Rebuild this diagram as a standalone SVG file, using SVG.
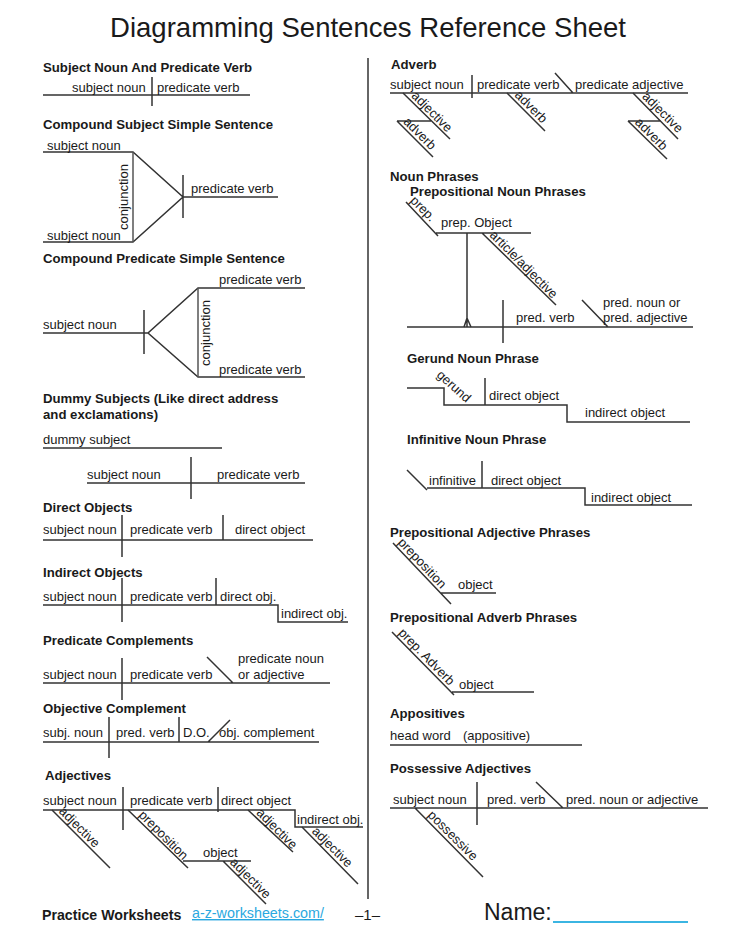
<svg xmlns="http://www.w3.org/2000/svg" width="736" height="952" viewBox="0 0 736 952">
<style>
  text { font-family: "Liberation Sans", Arial, sans-serif; fill: #1a1a1a; }
  .title { font-size: 28px; }
  .h { font-size: 13.2px; font-weight: bold; }
  .t { font-size: 13px; }
  .ln { stroke: #333; stroke-width: 1.5; fill: none; }
  .cj { stroke: #555; stroke-width: 1.5; fill: none; }
  .foot { font-size: 14.2px; font-weight: bold; }
  .link { font-size: 14.3px; fill: #2aa8e0; text-decoration: underline; }
</style>
<rect width="736" height="952" fill="#fff"/>
<text class="title" x="368" y="37" text-anchor="middle" textLength="516" lengthAdjust="spacingAndGlyphs">Diagramming Sentences Reference Sheet</text>

<g id="connectors">
  <line class="ln" x1="368" y1="58" x2="368" y2="899"/>
</g>

<!-- Left column -->
<g id="subject-predicate">
  <text class="h" x="43" y="72">Subject Noun And Predicate Verb</text>
  <path class="ln" d="M43 95H250M152 77V106"/>
  <text class="t" x="72" y="92">subject noun</text>
  <text class="t" x="157" y="92">predicate verb</text>
</g>

<g id="compound-subject">
  <text class="h" x="43" y="129">Compound Subject Simple Sentence</text>
  <path class="ln" d="M43 152H133L183 197L133 242H43M183 175V218M183 197H278"/>
  <path class="cj" d="M133 152V242"/>
  <text class="t" x="47" y="150">subject noun</text>
  <text class="t" x="47" y="240">subject noun</text>
  <text class="t" transform="translate(128,197) rotate(-90)" text-anchor="middle">conjunction</text>
  <text class="t" x="191" y="193">predicate verb</text>
</g>

<g id="compound-predicate">
  <text class="h" x="43" y="263">Compound Predicate Simple Sentence</text>
  <path class="ln" d="M43 333H148M144 310V354M305 288H198L148 333L198 377H305"/>
  <path class="cj" d="M198 288V377"/>
  <text class="t" x="43" y="329">subject noun</text>
  <text class="t" transform="translate(210,333) rotate(-90)" text-anchor="middle">conjunction</text>
  <text class="t" x="219" y="284">predicate verb</text>
  <text class="t" x="219" y="374">predicate verb</text>
</g>

<g id="dummy-subjects">
  <text class="h" x="43" y="403">Dummy Subjects (Like direct address</text>
  <text class="h" x="43" y="419">and exclamations)</text>
  <path class="ln" d="M43 448H222M87 483H305M191 457V499"/>
  <text class="t" x="43" y="444">dummy subject</text>
  <text class="t" x="87" y="479">subject noun</text>
  <text class="t" x="217" y="479">predicate verb</text>
</g>

<g id="direct-objects">
  <text class="h" x="43" y="512">Direct Objects</text>
  <path class="ln" d="M43 540H313M122 515V557M223 515V540"/>
  <text class="t" x="43" y="534">subject noun</text>
  <text class="t" x="130" y="534">predicate verb</text>
  <text class="t" x="235" y="534">direct object</text>
</g>

<g id="indirect-objects">
  <text class="h" x="43" y="577">Indirect Objects</text>
  <path class="ln" d="M43 605H278V622H348M122 578V622M216 578V605"/>
  <text class="t" x="43" y="601">subject noun</text>
  <text class="t" x="130" y="601">predicate verb</text>
  <text class="t" x="220" y="601">direct obj.</text>
  <text class="t" x="281" y="618">indirect obj.</text>
</g>

<g id="predicate-complements">
  <text class="h" x="43" y="645">Predicate Complements</text>
  <path class="ln" d="M43 683H330M122 658V700M207 657L233 683"/>
  <text class="t" x="43" y="679">subject noun</text>
  <text class="t" x="130" y="679">predicate verb</text>
  <text class="t" x="238" y="663">predicate noun</text>
  <text class="t" x="238" y="679">or adjective</text>
</g>

<g id="objective-complement">
  <text class="h" x="43" y="713">Objective Complement</text>
  <path class="ln" d="M43 742H319M109 717V758M179 717V742M208 742L230 720"/>
  <text class="t" x="43" y="737">subj. noun</text>
  <text class="t" x="116" y="737">pred. verb</text>
  <text class="t" x="183" y="737">D.O.</text>
  <text class="t" x="219" y="737">obj. complement</text>
</g>

<g id="adjectives">
  <text class="h" x="45" y="780">Adjectives</text>
  <path class="ln" d="M43 810H295V827H363M123 787V830M218 787V812"/>
  <path class="ln" d="M52 810L110 868M128 810L188 868M183 861H251M223 861L266 904M248 810L293 852M302 827L358 884"/>
  <text class="t" x="43" y="805">subject noun</text>
  <text class="t" x="130" y="805">predicate verb</text>
  <text class="t" x="221" y="805">direct object</text>
  <text class="t" x="297" y="824">indirect obj.</text>
  <text class="t" x="203" y="857">object</text>
  <text class="t" transform="translate(52,810) rotate(45)" x="6" y="-3">adjective</text>
  <text class="t" transform="translate(128,810) rotate(45)" x="11" y="-3">preposition</text>
  <text class="t" transform="translate(223,861) rotate(45)" x="6" y="-3">adjective</text>
  <text class="t" transform="translate(248,810) rotate(45)" x="8" y="-3">adjective</text>
  <text class="t" transform="translate(302,827) rotate(45)" x="10" y="-3">adjective</text>
</g>

<!-- Right column -->
<g id="adverb">
  <text class="h" x="391" y="69">Adverb</text>
  <path class="ln" d="M390 93H688M472 75V98M555 73L573 93"/>
  <path class="ln" d="M403 93L450 139M397 121H431M397 121L433 157M507 93L545 131M633 93L678 139M628 121H661M628 121L667 159"/>
  <text class="t" x="390" y="89">subject noun</text>
  <text class="t" x="477" y="89">predicate verb</text>
  <text class="t" x="575" y="89">predicate adjective</text>
  <text class="t" transform="translate(403,93) rotate(45)" x="8" y="-3">adjective</text>
  <text class="t" transform="translate(397,121) rotate(45)" x="5" y="-3">adverb</text>
  <text class="t" transform="translate(507,93) rotate(45)" x="7" y="-3">adverb</text>
  <text class="t" transform="translate(633,93) rotate(45)" x="9" y="-3">adjective</text>
  <text class="t" transform="translate(628,121) rotate(45)" x="6" y="-3">adverb</text>
</g>

<g id="noun-phrases">
  <text class="h" x="390" y="181">Noun Phrases</text>
  <text class="h" x="410" y="196">Prepositional Noun Phrases</text>
  <path class="ln" d="M406 202L438 236M436 233H531M467 233V327M464 327L467 318L471 327M482 233L556 305"/>
  <path class="ln" d="M407 327H693M503 300V343M582 300L608 327"/>
  <text class="t" transform="translate(406,202) rotate(45)" x="2" y="-3">prep.</text>
  <text class="t" x="441" y="227">prep. Object</text>
  <text class="t" transform="translate(482,233) rotate(45)" x="7" y="-3">article/adjective</text>
  <text class="t" x="516" y="322">pred. verb</text>
  <text class="t" x="603" y="307">pred. noun or</text>
  <text class="t" x="603" y="322">pred. adjective</text>
</g>

<g id="gerund-noun-phrase">
  <text class="h" x="407" y="363">Gerund Noun Phrase</text>
  <path class="ln" d="M407 388H444V405H567V422H690M485 378V405"/>
  <text class="t" transform="translate(436,376) rotate(42)">gerund</text>
  <text class="t" x="489" y="400">direct object</text>
  <text class="t" x="585" y="417">indirect object</text>
</g>

<g id="infinitive-noun-phrase">
  <text class="h" x="407" y="444">Infinitive Noun Phrase</text>
  <path class="ln" d="M407 470L427 490M427 488H585V505H692M482 461V488"/>
  <text class="t" x="429" y="485">infinitive</text>
  <text class="t" x="491" y="485">direct object</text>
  <text class="t" x="591" y="502">indirect object</text>
</g>

<g id="prepositional-adjective">
  <text class="h" x="390" y="537">Prepositional Adjective Phrases</text>
  <path class="ln" d="M393 543L451 604M440 593H496"/>
  <text class="t" transform="translate(393,543) rotate(46.5)" x="3" y="-3">preposition</text>
  <text class="t" x="458" y="589">object</text>
</g>

<g id="prepositional-adverb">
  <text class="h" x="390" y="622">Prepositional Adverb Phrases</text>
  <path class="ln" d="M392 632L454 695M452 692H534"/>
  <text class="t" transform="translate(392,632) rotate(45.5)" x="5" y="-3">prep. Adverb</text>
  <text class="t" x="459" y="689">object</text>
</g>

<g id="appositives">
  <text class="h" x="390" y="718">Appositives</text>
  <path class="ln" d="M390 745H582"/>
  <text class="t" x="390" y="740">head word</text>
  <text class="t" x="463" y="740">(appositive)</text>
</g>

<g id="possessive-adjectives">
  <text class="h" x="390" y="773">Possessive Adjectives</text>
  <path class="ln" d="M390 808H708M477 782V825M536 782L563 808M415 808L483 877"/>
  <text class="t" x="393" y="804">subject noun</text>
  <text class="t" x="487" y="804">pred. verb</text>
  <text class="t" x="566" y="804">pred. noun or adjective</text>
  <text class="t" transform="translate(415,808) rotate(45)" x="14" y="-3">possessive</text>
</g>

<g id="footer">
  <text class="foot" x="42" y="920">Practice Worksheets</text>
  <text class="link" x="192" y="918">a-z-worksheets.com/</text>
  <text x="355" y="920" style="font-size:15px">–1–</text>
  <text x="484" y="920" style="font-size:23px">Name:</text>
  <line x1="553" y1="922" x2="688" y2="922" stroke="#3bb5e2" stroke-width="2"/>
</g>
</svg>
